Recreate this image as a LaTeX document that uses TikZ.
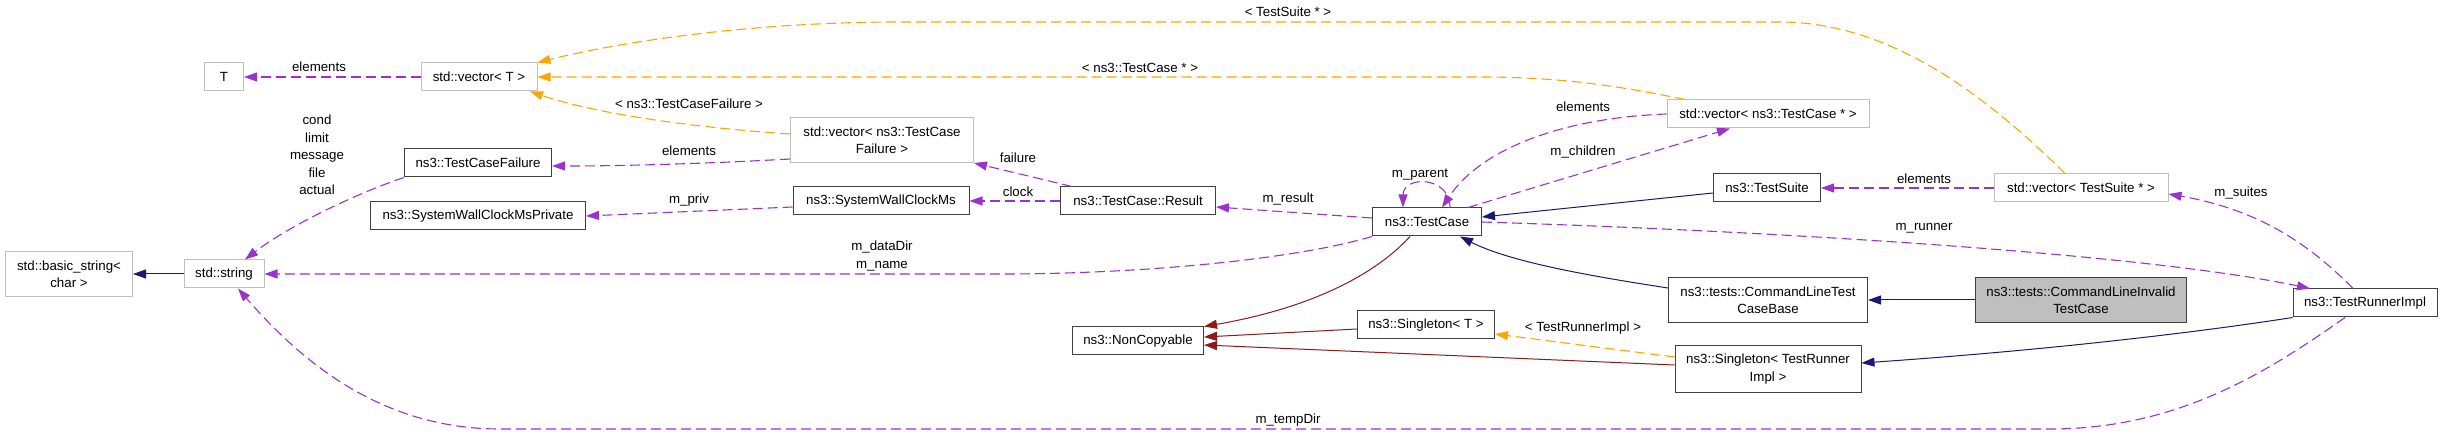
\documentclass[tikz,border=0pt]{standalone}
\usepackage{fontspec}
\setmainfont{Liberation Sans}
\usetikzlibrary{arrows.meta}
\definecolor{usecol}{HTML}{9A32CD}
\definecolor{tmplcol}{HTML}{FFA500}
\definecolor{pubcol}{HTML}{191970}
\definecolor{privcol}{HTML}{8B1A1A}
\definecolor{extcol}{HTML}{BFBFBF}
\begin{document}
\begin{tikzpicture}[x=1pt,y=-1pt]
  \tikzset{every node/.style={font=\fontsize{13.3}{17.5}\selectfont}}
  \tikzset{cls/.style={draw=black!75,fill=white,line width=1pt,minimum height=28pt,inner sep=1pt,align=center}}
  \tikzset{ext/.style={cls,draw=extcol}}
  \tikzset{tip/.style={-{Triangle[length=13pt,width=9pt]}}}
  \tikzset{member/.style={tip,draw=usecol,line width=1.1pt,dash pattern=on 10pt off 5pt}}
  \tikzset{tmpl/.style={tip,draw=tmplcol,line width=1.1pt,dash pattern=on 10pt off 5pt}}
  \tikzset{pub/.style={tip,draw=pubcol,line width=1pt}}
  \tikzset{priv/.style={tip,draw=privcol,line width=1pt}}
  \useasboundingbox (0,0) rectangle (2443,435);

  \node[ext,minimum width=39pt] (T) at (224,77) {T};
  \node[ext,minimum width=116pt] (vecT) at (479,77) {std::vector< T >};
  \node[cls,minimum width=147pt] (tcfail) at (478,163) {ns3::TestCaseFailure};
  \node[cls,minimum width=215pt] (clockpriv) at (478,216) {ns3::SystemWallClockMsPrivate};
  \node[ext,minimum width=127pt,minimum height=45pt] (basicstr) at (69,274) {std::basic\_string<\\char >};
  \node[ext,minimum width=80pt] (str) at (224,274) {std::string};
  \node[ext,minimum width=183pt,minimum height=45pt] (vecfail) at (882,140) {std::vector< ns3::TestCase\\Failure >};
  \node[cls,minimum width=176pt] (clock) at (881,201) {ns3::SystemWallClockMs};
  \node[cls,minimum width=155pt] (result) at (1138,201) {ns3::TestCase::Result};
  \node[cls,minimum width=109pt] (tcase) at (1427,222) {ns3::TestCase};
  \node[ext,minimum width=202pt] (veccase) at (1768,114) {std::vector< ns3::TestCase * >};
  \node[cls,minimum width=107pt] (tsuite) at (1767,188) {ns3::TestSuite};
  \node[ext,minimum width=174pt] (vecsuite) at (2081,188) {std::vector< TestSuite * >};
  \node[cls,minimum width=131pt] (noncopy) at (1138,341) {ns3::NonCopyable};
  \node[cls,minimum width=137pt] (singT) at (1426,325) {ns3::Singleton< T >};
  \node[cls,minimum width=199pt,minimum height=45pt] (cmdbase) at (1768,300) {ns3::tests::CommandLineTest\\CaseBase};
  \node[cls,minimum width=186pt,minimum height=46pt] (singrun) at (1768,369) {ns3::Singleton< TestRunner\\Impl >};
  \node[cls,fill=extcol,minimum width=211pt,minimum height=45pt] (cmdinv) at (2081,300) {ns3::tests::CommandLineInvalid\\TestCase};
  \node[cls,minimum width=144pt] (runner) at (2365,303) {ns3::TestRunnerImpl};

  \draw[member] (vecT) -- (T);
  \draw[tmpl] ([yshift=6pt]vecfail.west) .. controls (700,128) and (600,115) .. ([xshift=51pt]vecT.south);
  \draw[tmpl] ([xshift=-83pt]veccase.north) .. controls (1620,86) and (1560,77) .. (1480,77) -- (vecT.east);
  \draw[tmpl] ([xshift=-16pt]vecsuite.north) .. controls (2000,110) and (1900,22) .. (1780,22) -- (900,22) .. controls (750,22) and (620,42) .. (vecT.north east);
  \draw[member] ([yshift=4pt]vecfail.south west) .. controls (700,164) and (620,166) .. ([yshift=-3pt]tcfail.east);
  \draw[member] (tcfail.south west) .. controls (360,192) and (290,225) .. ([xshift=21pt]str.north);
  \draw[member] ([yshift=-6pt]clock.west) -- (clockpriv.east);
  \draw[member] ([xshift=-66pt]result.north) -- (vecfail.south east);
  \draw[member] (result.west) -- (clock.east);
  \draw[member] ([yshift=4pt]tcase.west) -- ([yshift=-6pt]result.east);
  \draw[member] ([xshift=23pt]tcase.north) .. controls +(0,-32) and +(0,-32) .. ([xshift=-24pt]tcase.north);
  \draw[member] (veccase.west) .. controls (1560,118) and (1480,150) .. ([xshift=15pt]tcase.north);
  \draw[member] ([xshift=41pt]tcase.north) -- ([xshift=-38pt]veccase.south);
  \draw[pub] ([yshift=-5pt]tsuite.west) -- ([yshift=5pt]tcase.east);
  \draw[member] (vecsuite.west) -- (tsuite.east);
  \draw[member] (tcase.south west) .. controls (1300,258) and (1150,274) .. (1000,274) -- (str.east);
  \draw[pub] (str.west) -- (basicstr.east);
  \draw[priv] ([xshift=-17pt]tcase.south) .. controls (1370,280) and (1300,310) .. (noncopy.north east);
  \draw[priv] ([yshift=-4pt]singT.west) -- ([yshift=4pt]noncopy.east);
  \draw[priv] ([yshift=4pt]singrun.west) -- ([yshift=-4pt]noncopy.east);
  \draw[tmpl] ([yshift=12pt]singrun.west) -- ([yshift=-9pt]singT.east);
  \draw[pub] ([yshift=12pt]cmdbase.west) .. controls (1590,276) and (1510,262) .. ([xshift=33pt]tcase.south);
  \draw[pub] (cmdinv.west) -- (cmdbase.east);
  \draw[pub] (runner.south west) .. controls (2200,332) and (2050,350) .. ([yshift=6pt]singrun.east);
  \draw[member] (tcase.east) .. controls (1800,232) and (2150,255) .. ([xshift=-55pt]runner.north);
  \draw[member] ([xshift=-12pt]runner.north) .. controls (2310,245) and (2260,210) .. ([yshift=-6pt]vecsuite.east);
  \draw[member] ([xshift=-20pt]runner.south) .. controls (2270,370) and (2180,429) .. (2050,429) -- (500,429) .. controls (380,429) and (300,360) .. ([xshift=14pt]str.south);

  \node (lelemT) at (319,67) {elements};
  \node (lfailT) at (689,104) {< ns3::TestCaseFailure >};
  \node (lcaseT) at (1140,68) {< ns3::TestCase * >};
  \node (lsuiteT) at (1288,12) {< TestSuite * >};
  \node (lelemfail) at (689,151) {elements};
  \node[align=center] (lfields) at (317,155) {cond\\limit\\message\\file\\actual};
  \node (lpriv) at (689,200) {m\_priv};
  \node (lfailure) at (1018,158) {failure};
  \node (lclock) at (1018,192) {clock};
  \node (lresult) at (1288,199) {m\_result};
  \node (lparent) at (1420,175) {m\_parent};
  \node (lelemcase) at (1583,107) {elements};
  \node (lchildren) at (1583,152) {m\_children};
  \node (lelemsuite) at (1924,179) {elements};
  \node[align=center] (ldirs) at (882,256) {m\_dataDir\\m\_name};
  \node (lrunT) at (1583,328) {< TestRunnerImpl >};
  \node (lrunner) at (1924,228) {m\_runner};
  \node (lsuites) at (2241,193) {m\_suites};
  \node (ltemp) at (1288,420) {m\_tempDir};
\end{tikzpicture}
\end{document}
